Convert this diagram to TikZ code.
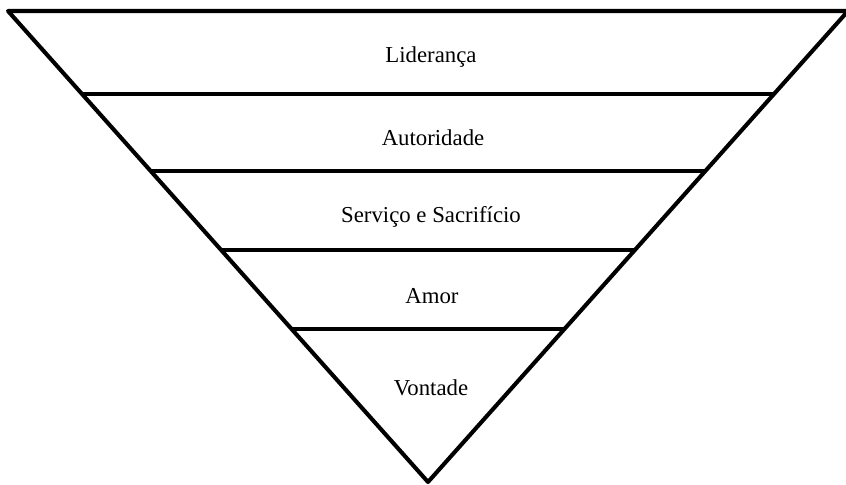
\documentclass[tikz,border=0pt]{standalone}
\usepackage{fontspec}
\setmainfont{Liberation Serif}
\usetikzlibrary{calc}

\begin{document}
\begin{tikzpicture}[x=0.025cm, y=-0.025cm, line join=round,
    edge/.style={line width=2.9pt},
    level/.style={anchor=base, font=\fontsize{16.2}{19}\selectfont}]
    \useasboundingbox (0,0) rectangle (846,485);
    \coordinate (tl) at (8,11);
    \coordinate (tr) at (848,11);
    \coordinate (apex) at (428,482);
    \draw[edge] (tl) -- (tr) -- (apex) -- cycle;
    % dividing lines
    \foreach \t [count=\i] in {0.176, 0.340, 0.507, 0.675} {
      \coordinate (l\i) at ($(tl)!\t!(apex)$);
      \coordinate (r\i) at ($(tr)!\t!(apex)$);
      \draw[edge] (l\i) -- (r\i);
    }
    \node[level] (lideranca) at (431,63) {Liderança};
    \node[level] (autoridade) at (433,146) {Autoridade};
    \node[level] (servico) at (431,222) {Serviço e Sacrifício};
    \node[level] (amor) at (432,303) {Amor};
    \node[level] (vontade) at (431,395) {Vontade};
\end{tikzpicture}
\end{document}
